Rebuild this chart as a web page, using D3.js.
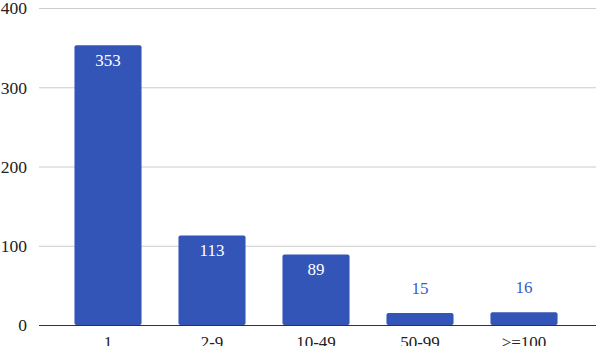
<!DOCTYPE html>
<html>
<head>
<meta charset="utf-8">
<script src="https://cdn.jsdelivr.net/npm/d3@7"></script>
<style>
  body { margin: 0; background: #fff; }
  text { font-family: "Liberation Serif", "Times New Roman", serif; }
</style>
</head>
<body>
<div id="chart"></div>
<script>
var categories = ["1", "2-9", "10-49", "50-99", ">=100"];
var counts = [353, 113, 89, 15, 16];
var yTicks = [0, 100, 200, 300, 400];

var svgWidth = 596;
var svgHeight = 346;

var svg = d3.select("#chart")
  .append("svg")
  .attr("width", svgWidth)
  .attr("height", svgHeight);

// scales
var x = d3.scaleBand()
  .domain(categories)
  .range([56, 576])
  .paddingInner(0.355)
  .paddingOuter(0.1775);

var y = d3.scaleLinear()
  .domain([0, 400])
  .range([325, 8]);

// gridlines
svg.append("g")
  .selectAll("line")
  .data(yTicks.filter(d => d > 0))
  .enter()
  .append("line")
  .attr("x1", 39)
  .attr("x2", svgWidth)
  .attr("y1", d => y(d) + 0.5)
  .attr("y2", d => y(d) + 0.5)
  .attr("stroke", "#cccccc")
  .attr("stroke-width", 1);

// y tick labels
var leftAxis = d3.axisLeft(y).tickValues(yTicks).tickSize(0).tickPadding(0);
var yAxis = svg.append("g")
  .attr("transform", "translate(27,0)")
  .call(leftAxis);
yAxis.select(".domain").remove();
yAxis.selectAll("text")
  .attr("font-family", "'Liberation Serif', serif")
  .attr("font-size", 17.5)
  .attr("fill", "#222")
  .attr("dy", "0.34em");

// bars
svg.append("g")
  .selectAll("rect")
  .data(counts)
  .enter()
  .append("rect")
  .attr("x", (d, i) => x(categories[i]))
  .attr("y", d => y(d))
  .attr("width", x.bandwidth())
  .attr("height", d => y(0) - y(d))
  .attr("rx", 2)
  .attr("fill", "#3355b8");

// baseline
svg.append("line")
  .attr("x1", 39)
  .attr("x2", svgWidth)
  .attr("y1", y(0) + 0.5)
  .attr("y2", y(0) + 0.5)
  .attr("stroke", "#333")
  .attr("stroke-width", 1);

// x tick labels
var bottomAxis = d3.axisBottom(x).tickSize(0).tickPadding(0);
var xAxis = svg.append("g")
  .attr("transform", "translate(0,336)")
  .call(bottomAxis);
xAxis.select(".domain").remove();
xAxis.selectAll("text")
  .attr("font-family", "'Liberation Serif', serif")
  .attr("font-size", 17)
  .attr("fill", "#222")
  .attr("dy", "0.68em");

// value labels
svg.append("g")
  .selectAll("text")
  .data(counts)
  .enter()
  .append("text")
  .attr("x", (d, i) => x(categories[i]) + x.bandwidth() / 2)
  .attr("y", d => (y(0) - y(d) > 30) ? y(d) + 20.5 : y(d) - 19)
  .attr("text-anchor", "middle")
  .attr("font-size", 17)
  .attr("fill", d => (y(0) - y(d) > 30) ? "#ffffff" : "#3a5bc6")
  .text(d => d);
</script>
</body>
</html>
